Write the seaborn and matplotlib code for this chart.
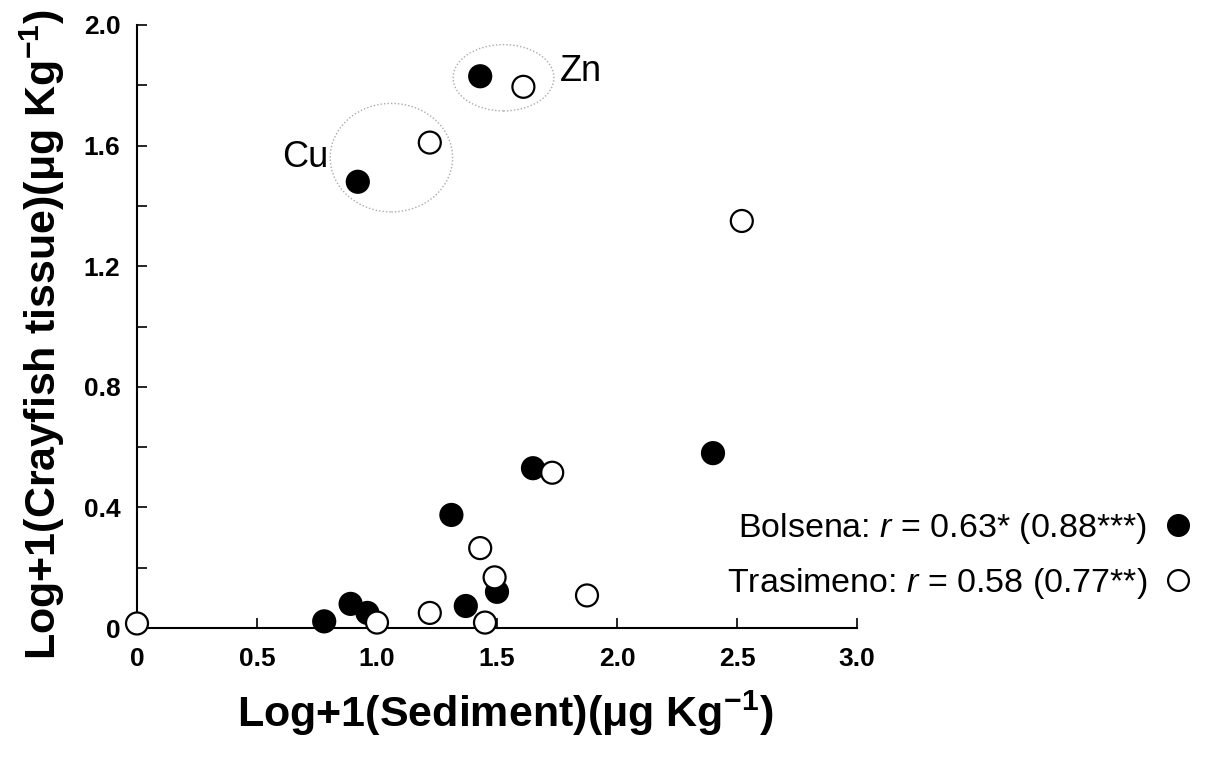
import matplotlib
matplotlib.use("Agg")
import matplotlib.pyplot as plt
import seaborn as sns
import pandas as pd
from matplotlib.patches import Ellipse
from matplotlib.lines import Line2D

# ---- data ----
bolsena_x = [0.92, 1.43, 1.65, 2.40, 1.31, 0.78, 0.89, 0.96, 1.37, 1.50]
bolsena_y = [1.48, 1.83, 0.53, 0.58, 0.375, 0.022, 0.08, 0.05, 0.073, 0.12]
trasimeno_x = [0.0, 1.22, 1.61, 2.52, 1.73, 1.43, 1.49, 1.875, 1.22, 1.00, 1.45]
trasimeno_y = [0.015, 1.61, 1.795, 1.35, 0.515, 0.265, 0.168, 0.108, 0.05, 0.018, 0.018]
lakes = ["Bolsena", "Trasimeno"]
legend_labels = ["Bolsena: $r$ = 0.63* (0.88***)", "Trasimeno: $r$ = 0.58 (0.77**)"]
x_ticks = [0, 0.5, 1.0, 1.5, 2.0, 2.5, 3.0]
x_ticklabels = ["0", "0.5", "1.0", "1.5", "2.0", "2.5", "3.0"]
y_ticks = [0, 0.4, 0.8, 1.2, 1.6, 2.0]
y_ticklabels = ["0", "0.4", "0.8", "1.2", "1.6", "2.0"]
y_minor = [0.2, 0.6, 1.0, 1.4, 1.8]
groups = ["Cu", "Zn"]
group_centers = [(1.06, 1.56), (1.527, 1.825)]
group_sizes = [(0.51, 0.36), (0.42, 0.22)]
group_label_pos = [(0.70, 1.56), (1.85, 1.847)]

df = pd.DataFrame({
    "x": bolsena_x + trasimeno_x,
    "y": bolsena_y + trasimeno_y,
    "lake": [lakes[0]] * len(bolsena_x) + [lakes[1]] * len(trasimeno_x),
})

sns.set_style("ticks")
plt.rcParams["font.family"] = ["Liberation Sans", "DejaVu Sans"]
plt.rcParams["text.color"] = "black"
plt.rcParams["axes.labelcolor"] = "black"
plt.rcParams["xtick.color"] = "black"
plt.rcParams["ytick.color"] = "black"
plt.rcParams["mathtext.fontset"] = "custom"
plt.rcParams["mathtext.rm"] = "Liberation Sans"
plt.rcParams["mathtext.it"] = "Liberation Sans:italic"
plt.rcParams["mathtext.bf"] = "Liberation Sans:bold"

fig = plt.figure(figsize=(12.12, 7.62), dpi=100)
ax = fig.add_axes([137 / 1212, 1 - 628 / 762, 720 / 1212, 603 / 762])

palette = {"Bolsena": "black", "Trasimeno": "white"}
sns.scatterplot(data=df, x="x", y="y", hue="lake", palette=palette, s=250,
                edgecolor="black", linewidth=1.6, ax=ax, legend=False,
                clip_on=False, zorder=5)

for (cx, cy), (w, h), name, (lx, ly) in zip(group_centers, group_sizes, groups, group_label_pos):
    ax.add_patch(Ellipse((cx, cy), w, h, fill=False, edgecolor="#aaaaaa",
                         linestyle=(0, (1, 1.5)), linewidth=1.0, zorder=2))
    ax.text(lx, ly, name, fontsize=26, ha="center", va="center", color="black")

ax.set_xlim(0, 3.0)
ax.set_ylim(0, 2.0)
ax.set_xticks(x_ticks)
ax.set_xticklabels(x_ticklabels, fontsize=19, fontweight="bold")
ax.set_yticks(y_ticks)
ax.set_yticklabels(y_ticklabels, fontsize=19, fontweight="bold")
ax.set_yticks(y_minor, minor=True)
ax.tick_params(axis="both", which="both", direction="in", length=7, width=1.2, colors="black")
ax.tick_params(axis="x", pad=14)
ax.tick_params(axis="y", pad=12)
for side in ["top", "right"]:
    ax.spines[side].set_visible(False)
for side in ["left", "bottom"]:
    ax.spines[side].set_linewidth(1.5)
    ax.spines[side].set_color("black")

ax.set_xlabel("Log+1(Sediment)(μg Kg$^{\\mathbf{-1}}$)", fontsize=31, fontweight="bold")
ax.set_ylabel("Log+1(Crayfish tissue)(μg Kg$^{\\mathbf{-1}}$)", fontsize=31, fontweight="bold")
ax.xaxis.set_label_coords(0.511, -0.142)
ax.xaxis.label.set_va("center")
ax.yaxis.set_label_coords(-0.132, 0.487)
ax.yaxis.label.set_va("center")

handles = [
    Line2D([], [], marker="o", linestyle="none", markersize=15, markerfacecolor=palette[l],
           markeredgecolor="black", markeredgewidth=1.6)
    for l in lakes
]
leg = ax.legend(handles, legend_labels, loc="center right", bbox_to_anchor=(1205 / 1212, 1 - 556 / 762),
                bbox_transform=fig.transFigure, frameon=False, markerfirst=False,
                fontsize=24.5, labelspacing=0.6, handletextpad=0.5, handlelength=0.8,
                borderaxespad=0)

fig.savefig("out.png", dpi=100)
